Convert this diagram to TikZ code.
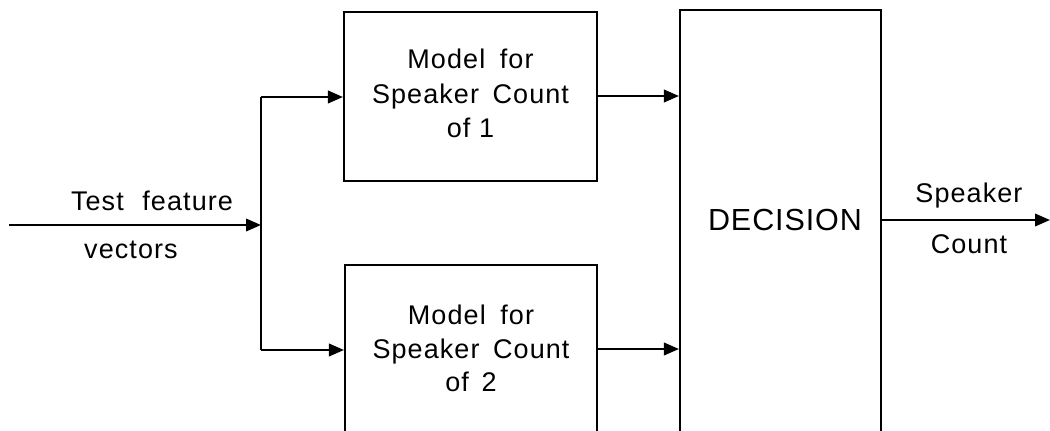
\documentclass[tikz,border=0pt]{standalone}
\usepackage{fontspec}
\setmainfont{Liberation Sans}
\newfontfamily\lsf[LetterSpace=4]{Liberation Sans}
\newfontfamily\dsf[LetterSpace=3]{Liberation Sans}
\usetikzlibrary{arrows.meta,calc}
\begin{document}
\begin{tikzpicture}[x=1pt,y=-1pt,
  line width=2.1pt,
  arr/.style={-{Triangle[length=15pt,width=12.5pt]}},
  blk/.style={draw,line width=2.1pt,rectangle,inner sep=0pt},
  lbl/.style={font=\fontsize{27}{34.5}\selectfont\lsf,inner sep=0pt,anchor=base}
]
\useasboundingbox (0,0) rectangle (1050,431);
% blocks
\node[blk,minimum width=253pt,minimum height=169pt] (m1) at (470.5,96.5) {};
\node[blk,minimum width=252pt,minimum height=200pt] (m2) at (471,365) {};
\node[blk,minimum width=201pt,minimum height=450pt] (dec) at (780.5,235) {};
% box texts
\node[lbl] (t1a) at (470.5,68) {Model\hspace{6pt} for};
\node[lbl] (t1b) at (470.5,103) {Speaker\hspace{5pt} Count};
\node[lbl] (t1c) at (470.5,137) {of 1};
\node[lbl] (t2a) at (471,324) {Model\hspace{6pt} for};
\node[lbl] (t2b) at (471,358) {Speaker\hspace{5pt} Count};
\node[lbl] (t2c) at (471,391) {of\hspace{4pt} 2};
\node[font=\fontsize{30.5}{36}\selectfont\dsf,inner sep=0pt,anchor=base] (dtxt) at (785,230) {DECISION};
% side labels
\node[lbl] (inA) at (152,210) {Test\hspace{10pt} feature};
\node[lbl] (inB) at (131,258) {vectors};
\node[lbl] (outA) at (969,202) {Speaker};
\node[lbl] (outB) at (969,253) {Count};
% coordinates
\coordinate (in) at (9,225);
\coordinate (j) at (261,225);
\coordinate (j1) at (261,97);
\coordinate (j2) at (261,350);
\coordinate (o1) at (597,96);
\coordinate (o2) at (597,349);
\coordinate (out) at (1050,220);
% connectors
\draw[arr] (in) -- (j);
\draw (j1) -- (j2);
\draw[arr] (j1) -- (j1 -| m1.west);
\draw[arr] (j2) -- (j2 -| m2.west);
\draw[arr] (o1) -- (o1 -| dec.west);
\draw[arr] (o2) -- (o2 -| dec.west);
\draw[arr] (out -| dec.east) -- (out);
\end{tikzpicture}
\end{document}
